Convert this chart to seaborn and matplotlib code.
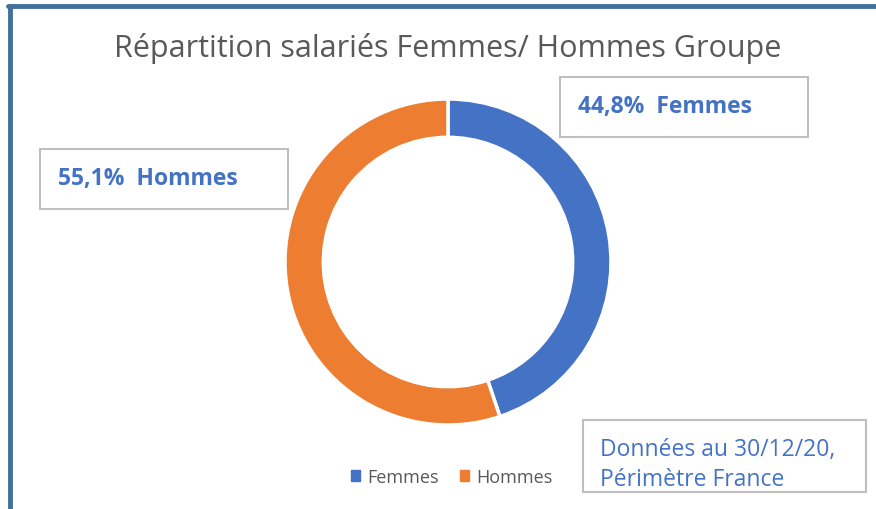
import seaborn as sns
import matplotlib.pyplot as plt
from matplotlib.patches import Rectangle

categories = ['Femmes', 'Hommes']
values = [44.8, 55.1]
labels = ['44,8%  Femmes', '55,1%  Hommes']
colors = ['#4472C4', '#ED7D31']
title = 'Répartition salariés Femmes/ Hommes Groupe'
note = 'Données au 30/12/20,\nPérimètre France'

sns.set_theme(style='white')
plt.rcParams['font.family'] = ['Open Sans', 'DejaVu Sans']

W, H = 876, 510
fig = plt.figure(figsize=(W / 100, H / 100), dpi=100)


def px(x, y, w=0, h=0):
    # pixel box (top-left origin) -> figure fraction
    return [x / W, 1 - (y + h) / H, w / W, h / H]


# blue frame (top and left edges visible)
fig.add_artist(plt.Line2D([9.5 / W, 9.5 / W], [0, 1 - 6.5 / H], color='#41719C', lw=3.5,
                          transform=fig.transFigure))
fig.add_artist(plt.Line2D([8 / W, 1], [1 - 6.5 / H, 1 - 6.5 / H], color='#41719C', lw=3.5,
                          transform=fig.transFigure))

cx, cy, r = 448, 263, 163
ax = fig.add_axes(px(cx - r, cy - r, 2 * r, 2 * r))
ax.pie(values, colors=colors, startangle=90, counterclock=False,
       wedgeprops=dict(width=0.235, edgecolor='white', linewidth=2.5))
ax.set_xlim(-1, 1)
ax.set_ylim(-1, 1)
ax.set_aspect('equal')
ax.axis('off')

fig.text(448 / W, 1 - 48 / H, title, ha='center', va='center', fontsize=22, color='#595959')

# label boxes
boxes = [(560, 78, 248, 60), (40, 150, 248, 60)]
for (bx, by, bw, bh), lab in zip(boxes, labels):
    x0, y0, w0, h0 = px(bx, by, bw, bh)
    fig.add_artist(Rectangle((x0, y0), w0, h0, transform=fig.transFigure, fill=False,
                             edgecolor='#BFBFBF', lw=1.5))
    fig.text((bx + 18) / W, 1 - (by + 29) / H, lab, ha='left', va='center', fontsize=16.5,
             fontweight='bold', color='#4472C4')

x0, y0, w0, h0 = px(583, 421, 283, 72)
fig.add_artist(Rectangle((x0, y0), w0, h0, transform=fig.transFigure, fill=False,
                         edgecolor='#BFBFBF', lw=1.5))
fig.text(600 / W, 1 - 465 / H, note, ha='left', va='center', fontsize=16.5, color='#4472C4',
         linespacing=1.35)

# legend
handles = [Rectangle((0, 0), 1, 1, color=c) for c in colors]
fig.legend(handles, categories, loc='center', bbox_to_anchor=(452 / W, 1 - 478 / H),
           ncol=2, frameon=False, fontsize=13, labelcolor='#595959', handlelength=0.5,
           handleheight=0.5, handletextpad=0.4, columnspacing=1.2)

fig.savefig('out.png', dpi=100)
